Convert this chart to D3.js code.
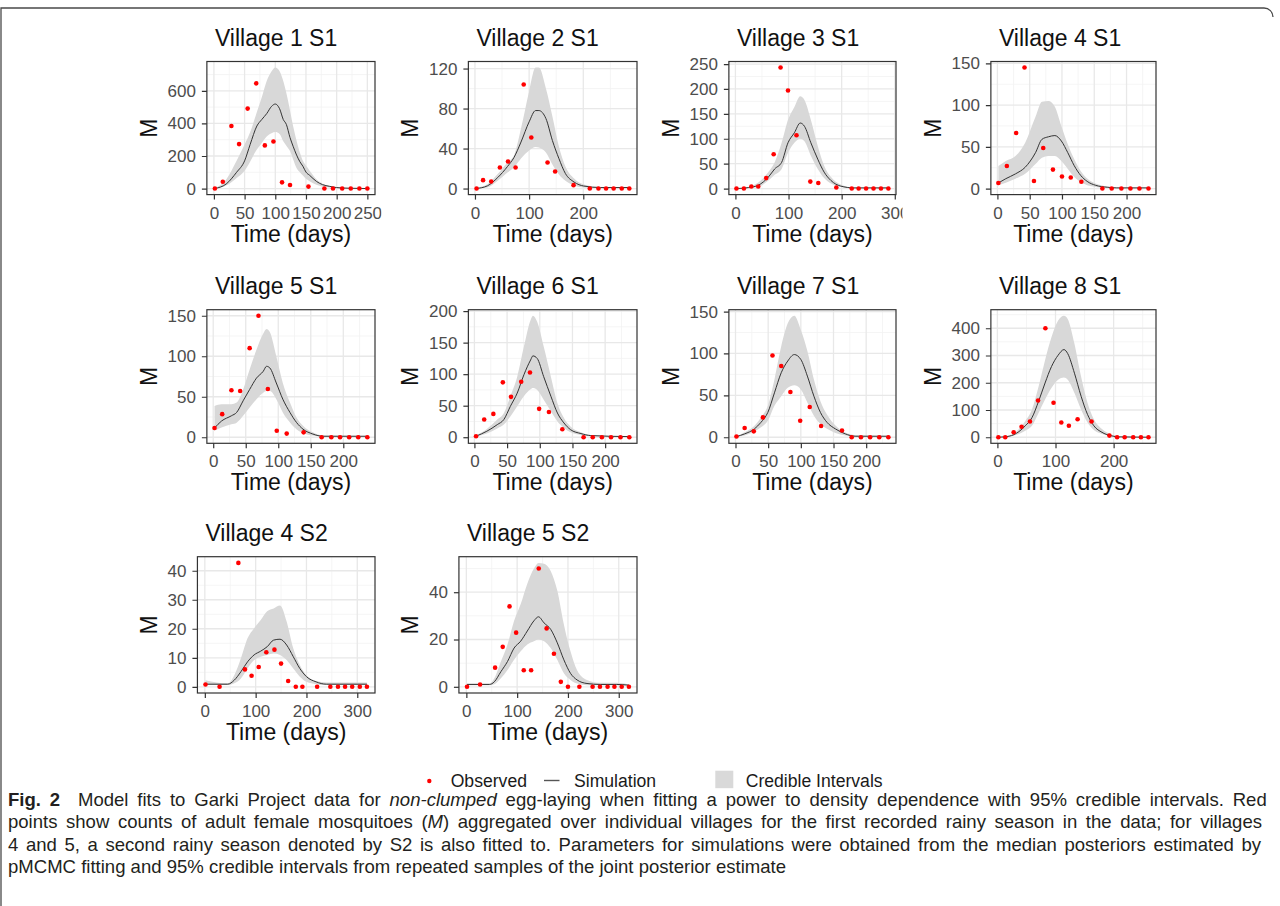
<!DOCTYPE html>
<html>
<head>
<meta charset="utf-8">
<script src="https://cdn.jsdelivr.net/npm/d3@7"></script>
<style>
body { margin: 0; background: #fff; }
text { font-family: "Liberation Sans", Arial, sans-serif; }
</style>
</head>
<body>
<svg id="fig"></svg>
<script>
// panel titles, in reading order
var titles = ['Village 1 S1', 'Village 2 S1', 'Village 3 S1', 'Village 4 S1',
              'Village 5 S1', 'Village 6 S1', 'Village 7 S1', 'Village 8 S1',
              'Village 4 S2', 'Village 5 S2'];

// observed counts: [day, M]
var obs1 = [[1.6,0],[14.5,42],[28.5,384],[41,273],[55,491],[69,646],[83,265],[97,289],[111,38],[124,22],[154,12],[180,0],[194,0],[209,0],[223,0],[237,0],[250,0]];
var obs2 = [[3,0],[15,8.4],[30,7],[46,21],[61,27],[75,21],[90,104],[104,51],[134,26],[148,17],[182,3.4],[212,0],[228,0],[242,0],[256,0],[271,0],[285,0]];
var obs3 = [[2,0],[16,0],[30,4],[43,4],[58,21],[72,69],[85,243],[99,197],[115,107],[141,14],[156,11],[190,2],[219,0],[232,0],[246,0],[260,0],[274,0],[288,0]];
var obs4 = [[1.5,6.7],[14.6,27],[29,66.6],[42,145],[56.6,9],[71,48.6],[86,22.7],[100,14.5],[113.6,13.3],[130,8.2],[162.6,0],[177,0],[192,0],[206,0],[220,0],[234,0]];
var obs5 = [[2,11.4],[13.8,28.5],[28,58],[41.4,57],[56,110],[69.6,150],[84,59.5],[97.7,8],[113,4.5],[139,6],[166.7,0],[181.6,0],[195,0],[209,0],[223,0],[237,0]];
var obs6 = [[2.5,1.6],[15,28],[29,37],[43.5,87],[56,64],[71.6,88],[85,102.6],[99,45],[114,40],[134.5,12.6],[167,0],[181,0],[195,0],[209,0],[223.5,0],[237,0]];
var obs7 = [[1.5,0.8],[14,11],[28,7],[42,23.7],[56.6,97.5],[70,85],[84,54],[99,19.7],[113.6,36],[131,13.4],[163,8],[177.8,0],[192,0],[206,0],[220,0],[234,0]];
var obs8 = [[1.7,0],[13.5,0],[28,18],[41.6,38.5],[56,58],[70,135],[82.6,400],[96.6,126.5],[110,54],[123,42],[138,66],[162,58],[192.7,6],[206,0],[219,0],[233.7,0],[247,0],[260,0]];
var obs9 = [[1.3,0.8],[29,0],[66,42.7],[79,6],[92,3.8],[106,6.8],[121,11.9],[137,12.8],[150,8],[164,2],[179,0],[192,0],[221,0],[247,0],[262,0],[276,0],[290,0],[305,0],[319,0]];
var obs10 = [[1.3,0],[27,1],[56.6,8.1],[71.6,16.9],[85,34],[98,22.9],[113,7],[127.5,7],[142.5,50],[158,24.7],[172.4,14],[186,2.1],[200,0],[222.5,0],[248.5,0],[263,0],[278,0],[291.5,0],[305.8,0],[320,0]];

// simulation: [day, median, lower 95%, upper 95%]
var sim1 = [[1,0,0,0],[20,28,18,55],[37,100,65,170],[50,170,110,270],[59,270,165,345],[70,384,240,470],[78,424,280,560],[86,460,320,660],[94,505,340,720],[100,519,347,743],[107,490,335,720],[113,424,290,660],[118,394,263,586],[124,313,230,480],[129,260,180,384],[134,212,131,303],[140,165,100,222],[145,137,80,170],[150,101,60,141],[156,81,45,110],[167,44,24,57],[177,24,12,30],[188,14,6,16],[200,6,2,8],[220,2,0,3],[250,0,0,0]];
var sim2 = [[2,0,0,1],[23,2.7,1,4.4],[42,11,7.7,14.5],[60,22,16,26],[72,31,21,33],[85,46.5,30,60],[100,66.7,38,97],[112,78,41.5,121],[118,78,41,121],[131,70,36,100],[143,48,24,72],[155,30,14,42],[167,15,7.7,22],[183,6.5,3,10],[201,2.5,1,4],[232,1,0.5,1.5],[285,1,0.5,1.5]];
var sim3 = [[2,0,0,0],[25,2,1.3,3],[43,6.6,3.3,12],[62,23,16,33],[74,39.5,27.6,53],[87,52.6,39.5,92],[99,92,72,138],[111,112,92,164],[122,131.6,100,185.5],[130,125,95,178],[142,92,66,138],[155,59,39.5,85.5],[167,33,21,46],[180,16,10,23],[198,5,3.3,8],[223,1.3,0.7,2],[288,1.3,0.7,2]];
var sim4 = [[1.5,6.7,4,27],[13,11.8,7,33],[28,17.6,11.8,39],[43,25.5,17.6,55],[59,43,29.4,86],[69,59,37,104],[79,62,39,105],[89,63.5,39,98],[99,57,33,75],[109,43,23.5,53],[119,27.4,13.7,35],[129,15.7,7.8,21],[139,8.6,3.9,12],[152,3.9,2,6],[170,1.6,0.8,2.5],[185,0.8,0.5,1.1],[234,0.8,0.4,1]];
var sim5 = [[2,11.4,8,38.7],[12.8,20,12,40.8],[28,26.5,16,40.8],[36,30.6,18,42.8],[46,45,26.5,59],[56,59,36.7,83.6],[66.5,73,47,108],[77,81.5,55,128],[82,87.6,57,133.7],[87,85.6,57,130],[97,67,47,100],[107,47,30.6,67],[118,30.6,18.3,42.8],[128,18.3,10,24.5],[138,10,5.3,14.3],[153,4,2,6],[169,1.2,0.8,2],[237,1.2,0.8,1.5]];
var sim6 = [[2.5,1.6,1,2.6],[19,9.5,5.8,13],[35,20,13.7,28],[45,28,20,38],[55,49,33,65],[65.5,70,49,96],[75.7,99,65,143.7],[86,122.6,76,186],[89.5,129,78,192.6],[96,125,75,183],[106,96,59.5,143.7],[117,65,41,96],[127,38.4,25,54],[137,22.6,14.7,30.5],[147,12,8,17],[163,5.8,3.7,8],[178,2.6,1.6,3.7],[237,1,0.5,1.5]];
var sim7 = [[1.5,0.8,0.4,1.2],[14,4,2,6],[29,10,6.7,13.8],[39,17.8,11.8,23.7],[49.5,29.6,19.7,37.5],[59.6,53,37.5,69],[70,77,49,108.6],[80,91,59,136],[90,98.7,62,145],[100,92.8,57,128],[110,73,41.5,103],[120,49,25.7,69],[130,29.6,15.8,43],[140,17.8,10,27],[153,9.9,5,14],[168,4,2,5.5],[183,1.2,0.8,2.5],[234,1.2,0.4,1.5]];
var sim8 = [[1.7,0,0,0],[20,3.6,2.4,6],[37,20.5,12,30],[48,42,24,60],[59.5,72,42,102],[71,132.5,90,187],[82,199,138.6,283],[93,259,180.7,367],[104.5,301,211,428],[114.6,321.7,219,445.8],[121,307,211,433.7],[132.6,235,162.6,343],[144,150.6,102,223],[155,84,54,126.5],[166,42,26.5,66],[180,18,12,30],[194,6,4.8,12],[211,1.2,1.2,3.6],[260,0,0,0]];
var sim9 = [[1.3,0.9,0.6,2.3],[45,0.9,0.6,1.2],[58,2.3,1.2,4],[71,5.2,2.9,9.8],[84,8.6,6.3,16.7],[97,11,9.2,20.2],[110,12.3,10.4,23],[122.6,13.8,11,26],[135.5,16.1,11.5,27],[148,16.4,11,28],[161,14.4,9.2,22.5],[174,10.4,6.3,13.3],[187,6.3,3.5,7.5],[200,3.5,1.7,4],[219,1.7,0.9,2],[239,0.9,0.6,1.5],[319,0.9,0.6,1.5]];
var sim10 = [[1.3,1,0.7,1.4],[45.5,1,0.7,1.4],[55,2.1,1.1,3.6],[68,6.4,3.6,10.7],[81,10.7,7.1,17.9],[94,16.4,11.4,27.9],[107,19.3,15,35],[120,23.6,17.9,43.6],[133,27.9,19.3,50],[142,29.6,20,52.4],[153,27,19.3,52],[166,24.3,16.4,49],[179,18.6,11.4,40.7],[192,11.4,5.7,26.4],[205,5.7,2.9,15],[218,2.9,1.4,7],[237.5,1.4,0.7,2.9],[263.5,1,0.7,1.7],[296,1,0.7,1.7],[320,0.7,0.4,1]];

// axis tick values per panel
var xTicks = [[0,50,100,150,200,250],[0,100,200],[0,100,200,300],[0,50,100,150,200],
              [0,50,100,150,200],[0,50,100,150,200],[0,50,100,150,200],[0,100,200],
              [0,100,200,300],[0,100,200,300]];
var yTicks = [[0,200,400,600],[0,40,80,120],[0,50,100,150,200,250],[0,50,100,150],
              [0,50,100,150],[0,50,100,150,200],[0,50,100,150],[0,100,200,300,400],
              [0,10,20,30,40],[0,20,40]];

var legendLabels = ['Observed', 'Simulation', 'Credible Intervals'];

var obsAll = [obs1, obs2, obs3, obs4, obs5, obs6, obs7, obs8, obs9, obs10];
var simAll = [sim1, sim2, sim3, sim4, sim5, sim6, sim7, sim8, sim9, sim10];

// ---- layout ----
var W = 1280, H = 906;
var colLeft = [138.5, 400, 660.5, 922.5],
    boxRight = [375, 637, 896, 1156],
    rowTop = [61.5, 309.7, 556.7],
    rowBottom = [194.6, 443.3, 693];

var tickFont = 17, titleFont = 23;

var svg = d3.select('#fig').attr('width', W).attr('height', H);
svg.append('rect').attr('width', W).attr('height', H).attr('fill', '#fff');
var defs = svg.append('defs');

// figure frame
svg.append('path')
  .attr('d', 'M1,906V8H1264A9,9 0 0 1 1273,17')
  .attr('fill', 'none').attr('stroke', '#4a4a4a').attr('stroke-width', 1.3);

function textWidth(str, size) {
  var t = svg.append('text').style('font-size', size + 'px').text(str);
  var w = t.node().getComputedTextLength();
  t.remove();
  return w;
}

// ggplot style 5% expansion
function expand(ext) {
  var d = ext[1] - ext[0];
  return [ext[0] - 0.05 * d, ext[1] + 0.05 * d];
}

function minorBreaks(ticks, dom) {
  var step = ticks[1] - ticks[0], out = [];
  for (var v = ticks[0] - step / 2; v <= dom[1]; v += step) {
    if (v >= dom[0]) out.push(v);
  }
  return out;
}

titles.forEach(function(title, i) {
  var row = Math.floor(i / 4), col = i % 4;
  var obs = obsAll[i], sim = simAll[i];

  var labW = d3.max(yTicks[i], function(v) { return textWidth(String(v), tickFont); });
  var left = colLeft[col] + 40 + labW,
      right = boxRight[col],
      top = rowTop[row],
      bottom = rowBottom[row];

  var xDom = expand(d3.extent(obs.concat(sim), function(d) { return d[0]; }));
  var yDom = expand([
    Math.min(d3.min(obs, function(d) { return d[1]; }), d3.min(sim, function(d) { return d[2]; })),
    Math.max(d3.max(obs, function(d) { return d[1]; }), d3.max(sim, function(d) { return d[3]; }))
  ]);

  var x = d3.scaleLinear().domain(xDom).range([left, right]);
  var y = d3.scaleLinear().domain(yDom).range([bottom, top]);

  // the next panel's background hides labels that run past the panel edge
  var clipId = 'clip' + i;
  defs.append('clipPath').attr('id', clipId)
    .append('rect')
    .attr('x', colLeft[col] - 5).attr('y', 0)
    .attr('width', right + 6.5 - (colLeft[col] - 5)).attr('height', H);

  var g = svg.append('g').attr('clip-path', 'url(#' + clipId + ')');

  // grid
  var grid = g.append('g');
  minorBreaks(xTicks[i], xDom).forEach(function(v) {
    grid.append('line').attr('x1', x(v)).attr('x2', x(v)).attr('y1', top).attr('y2', bottom)
      .attr('stroke', '#f2f2f2').attr('stroke-width', 0.8);
  });
  minorBreaks(yTicks[i], yDom).forEach(function(v) {
    grid.append('line').attr('x1', left).attr('x2', right).attr('y1', y(v)).attr('y2', y(v))
      .attr('stroke', '#f2f2f2').attr('stroke-width', 0.8);
  });
  xTicks[i].forEach(function(v) {
    grid.append('line').attr('x1', x(v)).attr('x2', x(v)).attr('y1', top).attr('y2', bottom)
      .attr('stroke', '#e8e8e8').attr('stroke-width', 1.3);
  });
  yTicks[i].forEach(function(v) {
    grid.append('line').attr('x1', left).attr('x2', right).attr('y1', y(v)).attr('y2', y(v))
      .attr('stroke', '#e8e8e8').attr('stroke-width', 1.3);
  });

  // credible interval ribbon
  var area = d3.area()
    .x(function(d) { return x(d[0]); })
    .y0(function(d) { return y(d[2]); })
    .y1(function(d) { return y(d[3]); })
    .curve(d3.curveMonotoneX);
  g.append('path').datum(sim).attr('d', area).attr('fill', '#d8d8d8');

  // median simulation
  var line = d3.line()
    .x(function(d) { return x(d[0]); })
    .y(function(d) { return y(d[1]); })
    .curve(d3.curveMonotoneX);
  g.append('path').datum(sim).attr('d', line)
    .attr('fill', 'none').attr('stroke', '#333').attr('stroke-width', 1);

  // observed points
  g.selectAll('.pt').data(obs).enter().append('circle')
    .attr('class', 'pt')
    .attr('cx', function(d) { return x(d[0]); })
    .attr('cy', function(d) { return y(d[1]); })
    .attr('r', 2.3)
    .attr('fill', '#ff0000');

  // panel border
  g.append('rect')
    .attr('x', left).attr('y', top).attr('width', right - left).attr('height', bottom - top)
    .attr('fill', 'none').attr('stroke', '#333').attr('stroke-width', 1.2);

  // axes
  var xAxis = g.append('g').attr('transform', 'translate(0,' + bottom + ')')
    .call(d3.axisBottom(x).tickValues(xTicks[i]).tickSize(5).tickPadding(7));
  var yAxis = g.append('g').attr('transform', 'translate(' + left + ',0)')
    .call(d3.axisLeft(y).tickValues(yTicks[i]).tickSize(5).tickPadding(6));
  [xAxis, yAxis].forEach(function(a) {
    a.select('.domain').remove();
    a.selectAll('.tick line').attr('stroke', '#333').attr('stroke-width', 1.2);
    a.selectAll('.tick text').attr('fill', '#4d4d4d')
      .style('font-size', tickFont + 'px').style('font-family', '"Liberation Sans", Arial, sans-serif');
  });

  // titles
  g.append('text')
    .attr('x', left + 8).attr('y', top - 16)
    .style('font-size', titleFont + 'px').attr('fill', '#111')
    .text(title);
  g.append('text')
    .attr('x', (left + right) / 2).attr('y', bottom + 47)
    .attr('text-anchor', 'middle')
    .style('font-size', titleFont + 'px').attr('fill', '#111')
    .text('Time (days)');
  g.append('text')
    .attr('transform', 'translate(' + (colLeft[col] + 18) + ',' + ((top + bottom) / 2) + ') rotate(-90)')
    .attr('text-anchor', 'middle')
    .style('font-size', titleFont + 'px').attr('fill', '#111')
    .text('M');
});

// ---- legend ----
var leg = svg.append('g');
var legFont = 17.6, legY = 787;
leg.append('circle').attr('cx', 429.3).attr('cy', 781).attr('r', 2.2).attr('fill', '#ff0000');
leg.append('text').attr('x', 450.7).attr('y', legY).style('font-size', legFont + 'px')
  .attr('fill', '#1a1a1a').text(legendLabels[0]);
leg.append('line').attr('x1', 544).attr('x2', 559.5).attr('y1', 780.5).attr('y2', 780.5)
  .attr('stroke', '#555').attr('stroke-width', 1.4);
leg.append('text').attr('x', 574).attr('y', legY).style('font-size', legFont + 'px')
  .attr('fill', '#1a1a1a').text(legendLabels[1]);
leg.append('rect').attr('x', 715.3).attr('y', 770.7).attr('width', 18).attr('height', 17.5)
  .attr('fill', '#d9d9d9');
leg.append('text').attr('x', 745.7).attr('y', legY).style('font-size', legFont + 'px')
  .attr('fill', '#1a1a1a').text(legendLabels[2]);

// ---- caption ----
var capLines = [
  [['b', 'Fig. 2'], ['n', '  Model fits to Garki Project data for '], ['i', 'non-clumped'],
   ['n', ' egg-laying when fitting a power to density dependence with 95% credible intervals. Red']],
  [['n', 'points show counts of adult female mosquitoes ('], ['i', 'M'],
   ['n', ') aggregated over individual villages for the first recorded rainy season in the data; for villages']],
  [['n', '4 and 5, a second rainy season denoted by S2 is also fitted to. Parameters for simulations were obtained from the median posteriors estimated by']],
  [['n', 'pMCMC fitting and 95% credible intervals from repeated samples of the joint posterior estimate']]
];
var capY = [806, 828.5, 851, 873.5], capRight = [1263, 1262, 1261, null];
var capFont = 18.5, capLeft = 8;

var capG = svg.append('g');
function buildLine(parent, parts, yy) {
  var t = parent.append('text').attr('x', 0).attr('y', yy)
    .style('font-size', capFont + 'px').attr('fill', '#231f20')
    .style('font-family', '"Liberation Sans Narrow", "Liberation Sans", Arial, sans-serif')
    .attr('xml:space', 'preserve');
  parts.forEach(function(p) {
    var s = t.append('tspan').text(p[1]);
    if (p[0] === 'b') s.style('font-weight', 'bold');
    if (p[0] === 'i') s.style('font-style', 'italic');
  });
  return t;
}
// condensed look: squeeze horizontally so line 3 sits close to its justified width
var probe = buildLine(capG, capLines[2], 0);
var sx = 1195 / probe.node().getComputedTextLength();
probe.remove();
capG.attr('transform', 'translate(' + capLeft + ',0) scale(' + sx + ',1)');
capLines.forEach(function(parts, k) {
  var t = buildLine(capG, parts, capY[k]);
  if (capRight[k]) {
    // justify by widening the word gaps
    var natural = t.node().getComputedTextLength();
    var gaps = parts.map(function(p) { return p[1]; }).join('').trim().split(/\s+/).length - 1;
    var extra = ((capRight[k] - capLeft) / sx - natural) / gaps;
    t.style('word-spacing', extra + 'px');
  }
});
</script>
</body>
</html>
